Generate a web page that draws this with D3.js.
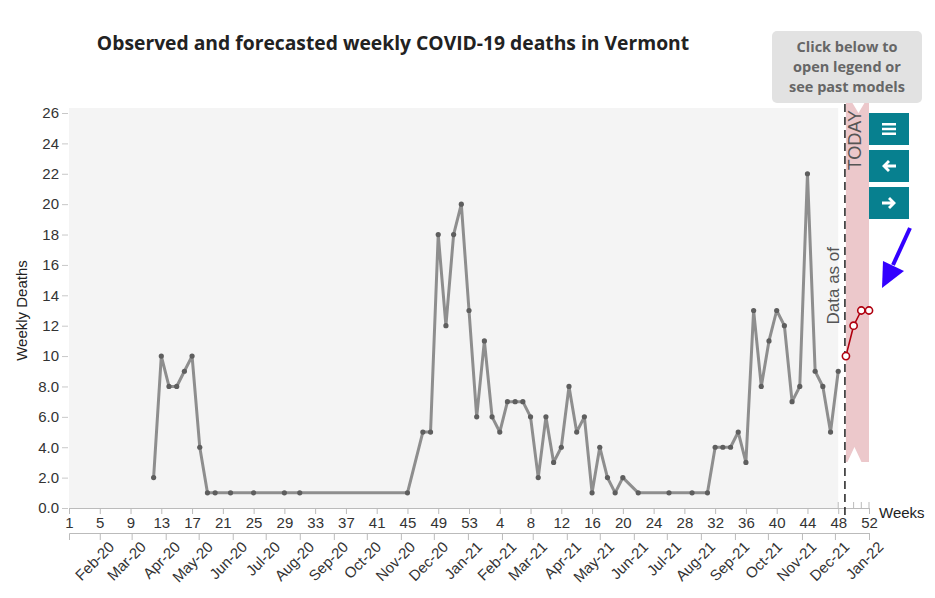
<!DOCTYPE html>
<html>
<head>
<meta charset="utf-8">
<script src="https://cdn.jsdelivr.net/npm/d3@7"></script>
<style>
  body { margin: 0; background: #fff; }
  #chart { width: 935px; height: 598px; display: block; }
</style>
</head>
<body>
<svg id="chart" width="935" height="598" font-family='"Liberation Sans", Arial, sans-serif'></svg>
<script>
// observed weeks of 2020 (MMWR week numbers)
const obsWeeks2020 = [12, 13, 14, 15, 16, 17, 18, 19, 20, 22, 25, 29, 31, 45, 47, 48, 49, 50, 51, 52, 53]
// observed deaths in 2020
const obsDeaths2020 = [2, 10, 8, 8, 9, 10, 4, 1, 1, 1, 1, 1, 1, 1, 5, 5, 18, 12, 18, 20, 13]
// observed weeks of 2021
const obsWeeks2021 = [1, 2, 3, 4, 5, 6, 7, 8, 9, 10, 11, 12, 13, 14, 15, 16, 17, 18, 19, 20, 22, 26, 29,
  31, 32, 33, 34, 35, 36, 37, 38, 39, 40, 41, 42, 43, 44, 45, 46, 47, 48]
// observed deaths in 2021
const obsDeaths2021 = [6, 11, 6, 5, 7, 7, 7, 6, 2, 6, 3, 4, 8, 5, 6, 1, 4, 2, 1, 2, 1, 1, 1,
  1, 4, 4, 4, 5, 3, 13, 8, 11, 13, 12, 7, 8, 22, 9, 8, 5, 9]
// forecast weeks of 2021
const forecastWeeks = [49, 50, 51, 52]
// forecast deaths
const forecastDeaths = [10, 12, 13, 13]
// y axis ticks
const yTicks = [0, 2, 4, 6, 8, 10, 12, 14, 16, 18, 20, 22, 24, 26]
// callout text lines
const calloutLines = ['Click below to', 'open legend or', 'see past models']

function makeChart() {
  const svg = d3.select('#chart')
  const axisFont = '"Liberation Sans", Arial, sans-serif'
  const titleFont = '"Open Sans", sans-serif'

  // week index counted from week 1 of 2020 (2020 has 53 weeks)
  const idx2020 = w => w - 1
  const idx2021 = w => 52 + w

  const observed = obsWeeks2020.map((w, i) => ({i: idx2020(w), v: obsDeaths2020[i]}))
    .concat(obsWeeks2021.map((w, i) => ({i: idx2021(w), v: obsDeaths2021[i]})))
  const forecast = forecastWeeks.map((w, i) => ({i: idx2021(w), v: forecastDeaths[i]}))

  const left = 69, right = 869, bottom = 508, top = 113

  const x = d3.scaleLinear().domain([0, 104]).range([left, right])
  const y = d3.scaleLinear().domain([0, 26]).range([bottom, top])
  // calendar scale: week 1 of 2020 ends Jan 4 2020, week 52 of 2021 ends Jan 1 2022
  const xt = d3.scaleTime().domain([new Date(2020, 0, 4), new Date(2022, 0, 1)]).range([left, right])

  // plot background for the observed period
  svg.append('rect')
    .attr('x', left).attr('y', y(26.33))
    .attr('width', x(idx2021(48)) - left).attr('height', bottom - y(26.33))
    .attr('fill', '#f4f4f4')

  // forecast ribbon
  const bx0 = x(idx2021(49)), bx1 = x(idx2021(52)), btop = 103, bbot = 462
  const bmid = (bx0 + bx1) / 2
  svg.append('path')
    .attr('d', `M${bx0},${btop}L${bmid - 5},${btop}L${bmid + 1},${btop + 10}L${bmid + 7},${btop}L${bx1},${btop}
      L${bx1},${bbot}L${bmid + 4},${bbot}L${bmid - 3},${bbot - 15}L${bmid - 10},${bbot}L${bx0},${bbot}Z`)
    .attr('fill', '#ecc8cb')

  // y axis
  const gy = svg.append('g')
    .attr('transform', `translate(${left - 1},0)`)
    .call(d3.axisLeft(y).tickValues(yTicks).tickSize(6).tickFormat(d3.format('.2r')))
  gy.select('.domain').remove()
  gy.selectAll('line').attr('stroke', '#c8c8c8')
  gy.selectAll('text').attr('font-size', 15).attr('fill', '#333')
    .attr('font-family', axisFont)

  svg.append('text')
    .attr('transform', `translate(27,${(top + bottom) / 2}) rotate(-90)`)
    .attr('text-anchor', 'middle')
    .attr('font-size', 15).attr('fill', '#222')
    .text('Weekly Deaths')

  // week number axis
  const gx = svg.append('g')
    .attr('transform', `translate(0,${bottom})`)
    .call(d3.axisBottom(x).tickValues(d3.range(0, 105, 4)).tickSize(6).tickSizeOuter(0)
      .tickFormat(i => i < 53 ? i + 1 : i - 52))
  gx.select('.domain').attr('stroke', '#bbb')
  gx.selectAll('line').attr('stroke', '#bbb')
  gx.selectAll('text').attr('font-size', 15).attr('fill', '#333')
    .attr('font-family', axisFont)

  // small ticks over the last observed and forecast weeks
  svg.append('g').selectAll('line')
    .data([idx2021(48)].concat(forecast.slice(1).map(d => d.i)))
    .join('line')
    .attr('x1', d => x(d)).attr('x2', d => x(d))
    .attr('y1', bottom - 6).attr('y2', bottom)
    .attr('stroke', '#bbb')

  svg.append('text')
    .attr('x', 879).attr('y', 518)
    .attr('font-size', 15).attr('fill', '#222')
    .text('Weeks')

  // month axis
  const gm = svg.append('g')
    .attr('transform', `translate(0,533)`)
    .call(d3.axisBottom(xt).ticks(d3.timeMonth.every(1)).tickSize(7)
      .tickFormat(d3.timeFormat('%b-%y')))
  gm.select('.domain').attr('stroke', '#bbb')
  gm.selectAll('line').attr('stroke', '#bbb')
  gm.selectAll('text')
    .attr('font-size', 15).attr('fill', '#333')
    .attr('font-family', axisFont)
    .attr('text-anchor', 'end')
    .attr('x', 0).attr('y', 21).attr('dy', 0)
    .attr('transform', 'rotate(-45)')

  // observed line
  const line = d3.line().x(d => x(d.i)).y(d => y(d.v))
  svg.append('path')
    .datum(observed)
    .attr('d', line)
    .attr('fill', 'none')
    .attr('stroke', '#8e8e8e')
    .attr('stroke-width', 3)
    .attr('stroke-linejoin', 'round')
  svg.append('g').selectAll('circle')
    .data(observed)
    .join('circle')
    .attr('cx', d => x(d.i)).attr('cy', d => y(d.v))
    .attr('r', 2.6)
    .attr('fill', '#5e5e5e')

  // today line
  svg.append('line')
    .attr('x1', x(idx2021(49)) - 1).attr('x2', x(idx2021(49)) - 1)
    .attr('y1', 104).attr('y2', 520)
    .attr('stroke', '#222').attr('stroke-width', 1.5)
    .attr('stroke-dasharray', '8,5')

  svg.append('text')
    .attr('transform', `translate(861,110) rotate(-90)`)
    .attr('text-anchor', 'end')
    .attr('font-size', 18).attr('fill', '#555')
    .text('TODAY')
  svg.append('text')
    .attr('transform', `translate(839,247) rotate(-90)`)
    .attr('text-anchor', 'end')
    .attr('font-size', 17).attr('fill', '#555')
    .text('Data as of')

  // forecast line
  svg.append('path')
    .datum(forecast)
    .attr('d', line)
    .attr('fill', 'none')
    .attr('stroke', '#b0000f')
    .attr('stroke-width', 1.6)
  svg.append('g').selectAll('circle')
    .data(forecast)
    .join('circle')
    .attr('cx', d => x(d.i)).attr('cy', d => y(d.v))
    .attr('r', 3.6)
    .attr('fill', '#fff')
    .attr('stroke', '#b0000f')
    .attr('stroke-width', 1.6)

  // title
  svg.append('text')
    .attr('x', 393).attr('y', 50)
    .attr('text-anchor', 'middle')
    .attr('font-family', titleFont)
    .attr('font-weight', 'bold')
    .attr('font-size', 19.3)
    .attr('fill', '#222')
    .text('Observed and forecasted weekly COVID-19 deaths in Vermont')

  // callout
  svg.append('rect')
    .attr('x', 772).attr('y', 31).attr('width', 150).attr('height', 72)
    .attr('rx', 5).attr('fill', '#e2e2e2')
  svg.append('g').selectAll('text')
    .data(calloutLines)
    .join('text')
    .attr('x', 847).attr('y', (d, i) => 52 + i * 20)
    .attr('text-anchor', 'middle')
    .attr('font-family', titleFont)
    .attr('font-weight', 'bold')
    .attr('font-size', 14.5)
    .attr('fill', '#666')
    .text(d => d)

  // buttons
  const buttons = svg.append('g').selectAll('g')
    .data(['menu', 'back', 'next'])
    .join('g')
    .attr('transform', (d, i) => `translate(869,${113 + i * 37})`)
  buttons.append('rect')
    .attr('width', 40).attr('height', 32)
    .attr('fill', '#07808f')
  buttons.append('path')
    .attr('d', d => {
      if (d === 'menu') return 'M13,10h14v2.6h-14zM13,14.7h14v2.6h-14zM13,19.4h14v2.6h-14z'
      if (d === 'back') return 'M13,16L19,10L21,12L18.4,14.6H27V17.4H18.4L21,20L19,22Z'
      return 'M27,16L21,10L19,12L21.6,14.6H13V17.4H21.6L19,20L21,22Z'
    })
    .attr('fill', '#fff')

  // pointer arrow
  svg.append('line')
    .attr('x1', 910).attr('y1', 228).attr('x2', 893).attr('y2', 265)
    .attr('stroke', '#3300ff').attr('stroke-width', 4)
  svg.append('path')
    .attr('d', 'M882,288L883,261L904,271Z')
    .attr('fill', '#3300ff')
}

window.onload = makeChart
</script>
</body>
</html>
